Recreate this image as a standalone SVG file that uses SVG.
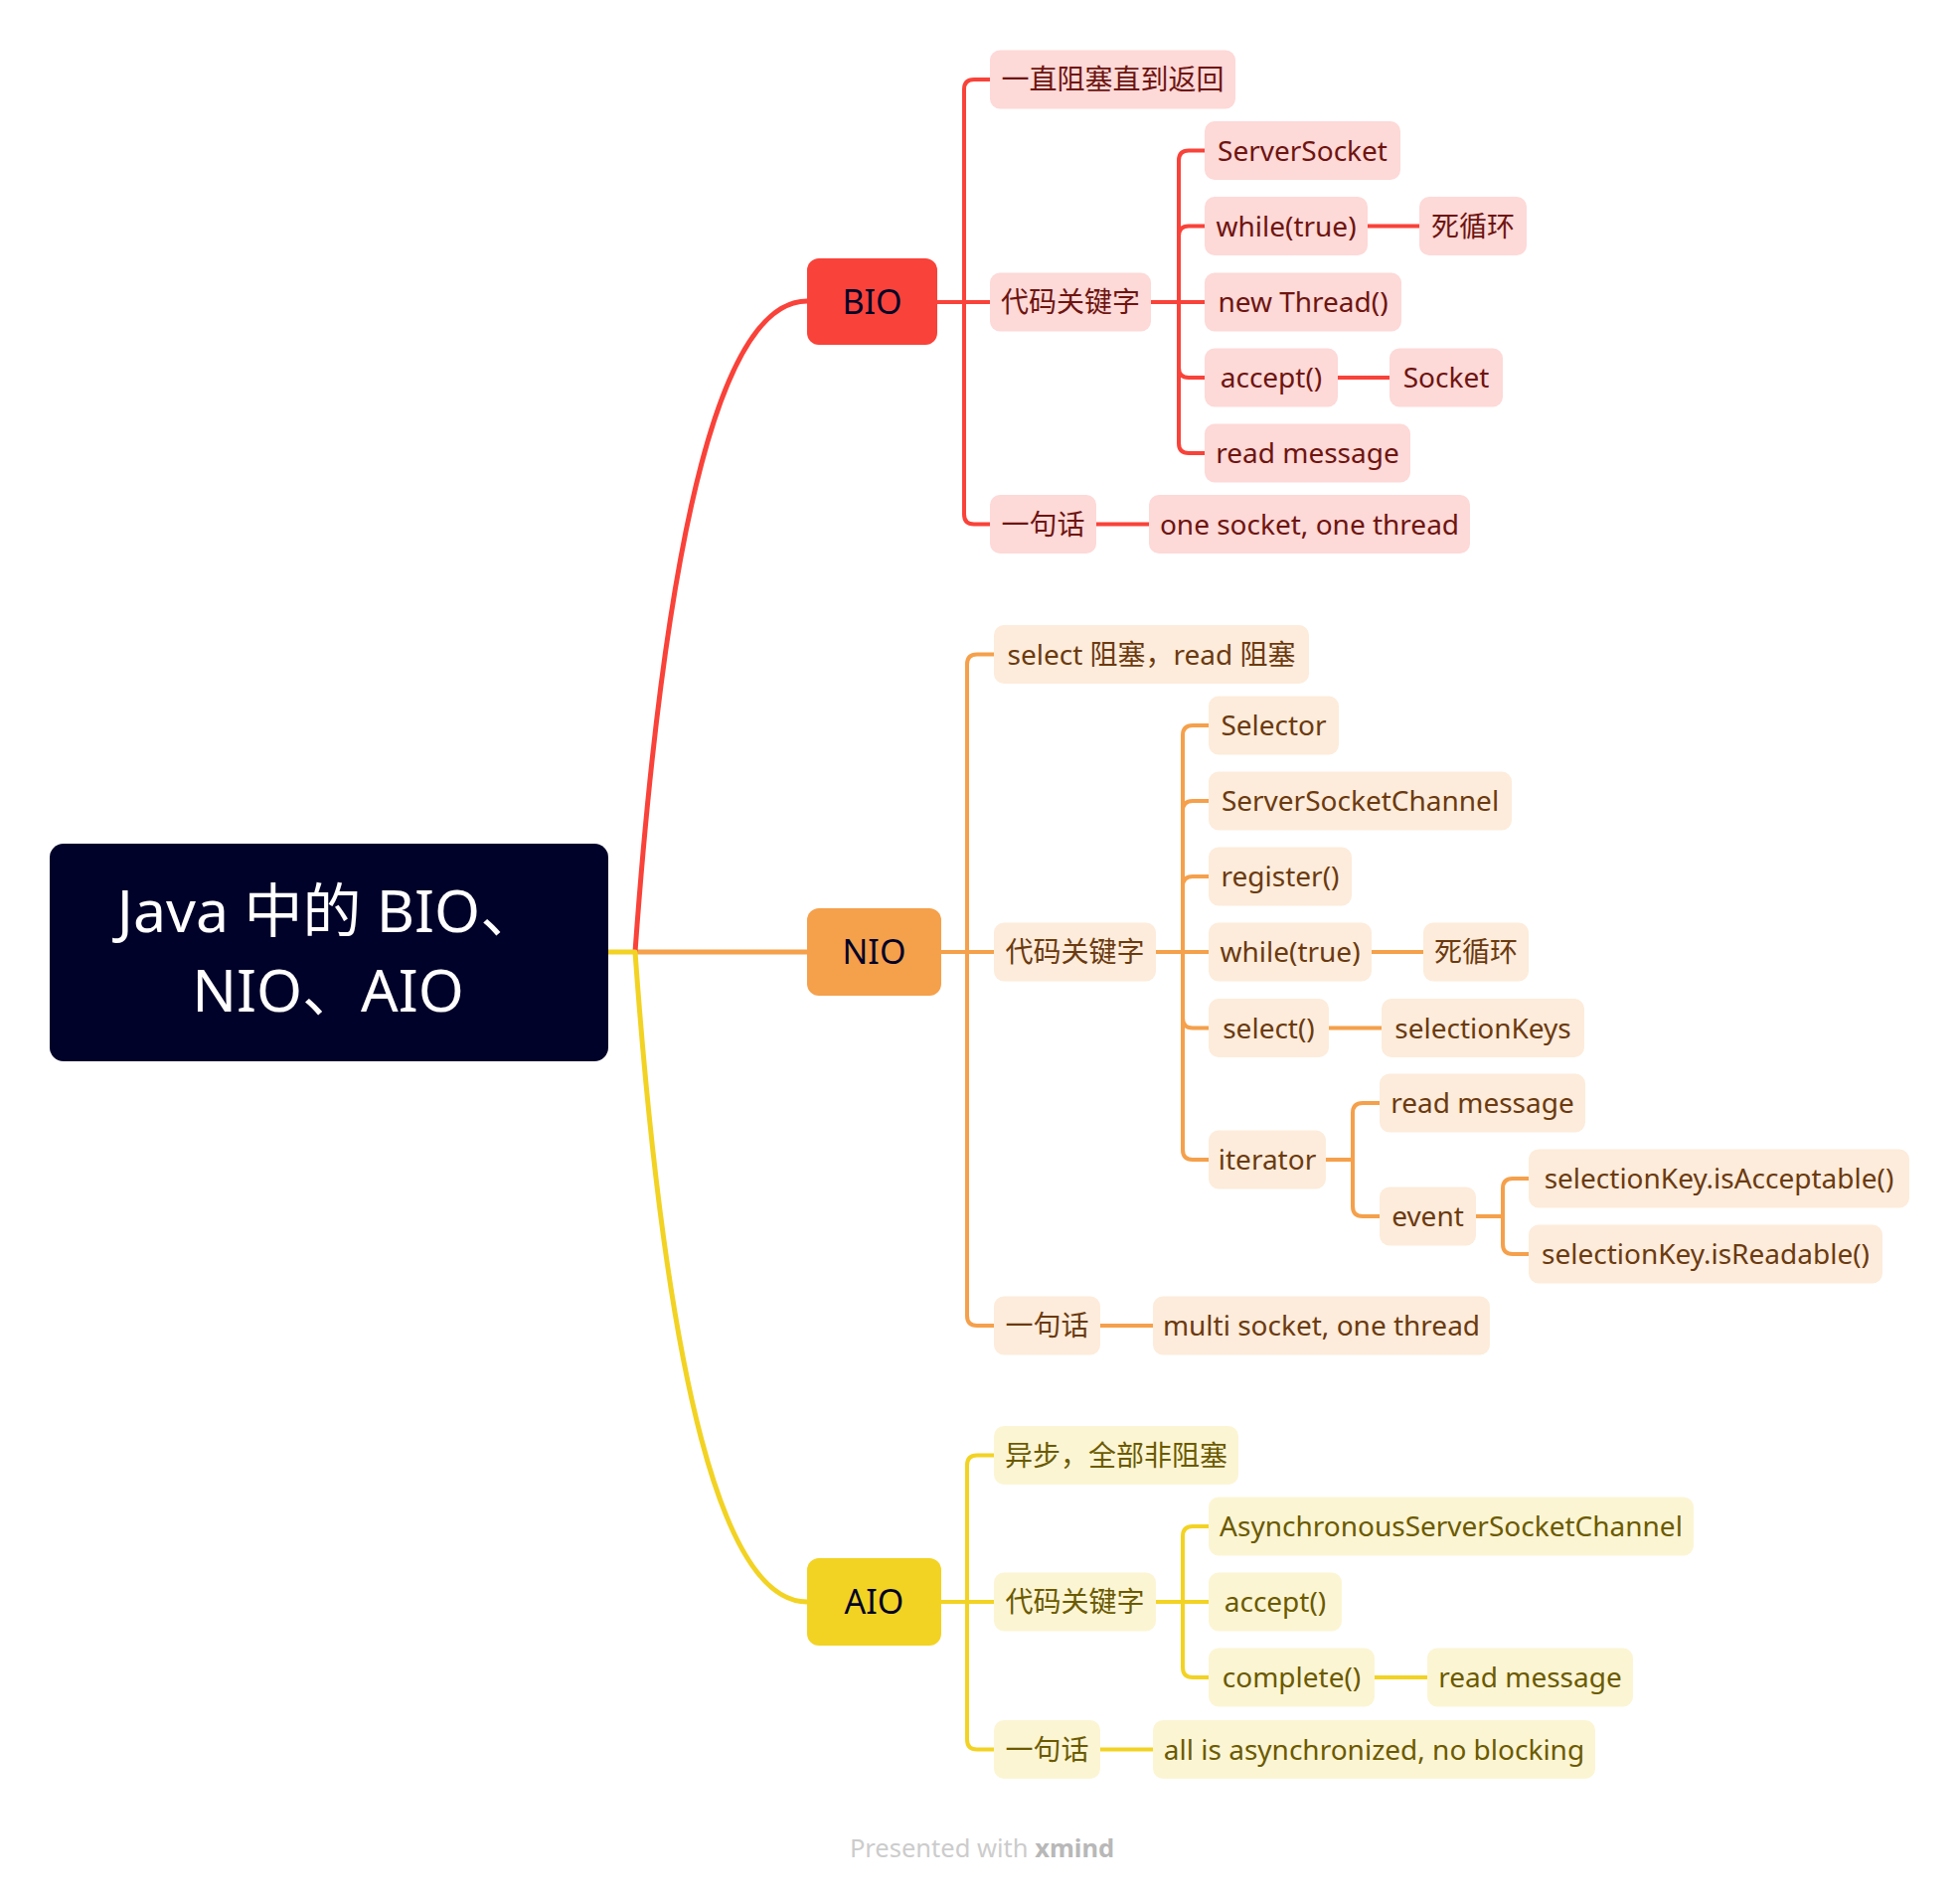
<svg xmlns="http://www.w3.org/2000/svg" width="1972" height="1910" viewBox="0 0 1972 1910">
<style>
text{font-family:"Noto Sans","Noto Sans CJK SC",sans-serif;text-anchor:middle}
.c{fill:none;stroke-linejoin:round}
.r{stroke:#F94239}.o{stroke:#F5A04B}.y{stroke:#F2D323}
.m{stroke-width:5}.s{stroke-width:4}
.t{font-size:28px}
.rb{fill:#FDD9D8}.rt{fill:#6E1410}
.ob{fill:#FDECDB}.ot{fill:#6B3A10}
.yb{fill:#FCF5D4}.yt{fill:#6B5A00}
.main{font-size:34px;fill:#000229}
</style>
<rect width="1972" height="1910" fill="#FFFFFF"/>
<g id="connectors">
<path class="c o m" d="M639 958H812"/>
<path class="c r m" d="M639 958Q686 303 812 303"/>
<path class="c y m" d="M612 958H639Q686 1612 812 1612"/>
<g class="c r s">
<path d="M943 304H996"/>
<path d="M970 304V90Q970 80 980 80H996"/>
<path d="M970 304V517.5Q970 527.5 980 527.5H996"/>
<path d="M1158 304H1212"/>
<path d="M1186 304V161.5Q1186 151.5 1196 151.5H1212"/>
<path d="M1186 304V237.5Q1186 227.5 1196 227.5H1212"/>
<path d="M1186 304V370Q1186 380 1196 380H1212"/>
<path d="M1186 304V446Q1186 456 1196 456H1212"/>
<path d="M1376 227.5H1428"/>
<path d="M1346 380H1398"/>
<path d="M1103 527.5H1156"/>
</g>
<g class="c o s">
<path d="M947 958H1000"/>
<path d="M973 958V668.5Q973 658.5 983 658.5H1000"/>
<path d="M973 958V1324Q973 1334 983 1334H1000"/>
<path d="M1163 958H1216"/>
<path d="M1190 958V740Q1190 730 1200 730H1216"/>
<path d="M1190 958V816Q1190 806 1200 806H1216"/>
<path d="M1190 958V892Q1190 882 1200 882H1216"/>
<path d="M1190 958V1024.5Q1190 1034.5 1200 1034.5H1216"/>
<path d="M1190 958V1157Q1190 1167 1200 1167H1216"/>
<path d="M1380 958H1432"/>
<path d="M1337 1034.5H1390"/>
<path d="M1334 1167H1361"/>
<path d="M1361 1167V1120Q1361 1110 1371 1110H1388"/>
<path d="M1361 1167V1214Q1361 1224 1371 1224H1388"/>
<path d="M1485 1224H1512"/>
<path d="M1512 1224V1196Q1512 1186 1522 1186H1538"/>
<path d="M1512 1224V1252Q1512 1262 1522 1262H1538"/>
<path d="M1107 1334H1160"/>
</g>
<g class="c y s">
<path d="M947 1612H1000"/>
<path d="M973 1612V1474.5Q973 1464.5 983 1464.5H1000"/>
<path d="M973 1612V1750.5Q973 1760.5 983 1760.5H1000"/>
<path d="M1163 1612H1216"/>
<path d="M1190 1612V1546Q1190 1536 1200 1536H1216"/>
<path d="M1190 1612V1678Q1190 1688 1200 1688H1216"/>
<path d="M1383 1688H1436"/>
<path d="M1107 1760.5H1160"/>
</g>
</g>
<g id="root">
<rect x="50" y="849" width="562" height="219" rx="14" fill="#000229"/>
<text x="330" y="938" font-size="59" fill="#FFFFFF">Java 中的 BIO、</text>
<text x="330" y="1018" font-size="59" fill="#FFFFFF">NIO、AIO</text>
</g>
<g id="bio"><rect x="812" y="260" width="131" height="87" rx="12" fill="#F94239"/><text class="main" x="877.5" y="316">BIO</text></g>
<g id="nio"><rect x="812" y="914" width="135" height="88" rx="12" fill="#F5A04B"/><text class="main" x="879.5" y="970">NIO</text></g>
<g id="aio"><rect x="812" y="1568" width="135" height="88" rx="12" fill="#F2D323"/><text class="main" x="879.5" y="1624">AIO</text></g>

<g id="b1"><rect class="rb" x="996" y="50.5" width="247" height="59" rx="10"/><text class="t rt" x="1119.5" y="90">一直阻塞直到返回</text></g>
<g id="b2"><rect class="rb" x="996" y="274.5" width="162" height="59" rx="10"/><text class="t rt" x="1077" y="314">代码关键字</text></g>
<g id="b2a"><rect class="rb" x="1212" y="122" width="197" height="59" rx="10"/><text class="t rt" x="1310.5" y="161.5">ServerSocket</text></g>
<g id="b2b"><rect class="rb" x="1212" y="198" width="164" height="59" rx="10"/><text class="t rt" x="1294" y="237.5">while(true)</text></g>
<g id="b2b1"><rect class="rb" x="1428" y="198" width="108" height="59" rx="10"/><text class="t rt" x="1482" y="237.5">死循环</text></g>
<g id="b2c"><rect class="rb" x="1212" y="274.5" width="198" height="59" rx="10"/><text class="t rt" x="1311" y="314">new Thread()</text></g>
<g id="b2d"><rect class="rb" x="1212" y="350.5" width="134" height="59" rx="10"/><text class="t rt" x="1279" y="390">accept()</text></g>
<g id="b2d1"><rect class="rb" x="1398" y="350.5" width="114" height="59" rx="10"/><text class="t rt" x="1455" y="390">Socket</text></g>
<g id="b2e"><rect class="rb" x="1212" y="426.5" width="207" height="59" rx="10"/><text class="t rt" x="1315.5" y="466">read message</text></g>
<g id="b3"><rect class="rb" x="996" y="498" width="107" height="59" rx="10"/><text class="t rt" x="1049.5" y="537.5">一句话</text></g>
<g id="b3a"><rect class="rb" x="1156" y="498" width="323" height="59" rx="10"/><text class="t rt" x="1317.5" y="537.5">one socket, one thread</text></g>

<g id="n1"><rect class="ob" x="1000" y="629" width="317" height="59" rx="10"/><text class="t ot" x="1158.5" y="668.5">select 阻塞，read 阻塞</text></g>
<g id="n2"><rect class="ob" x="1000" y="928.5" width="163" height="59" rx="10"/><text class="t ot" x="1081.5" y="968">代码关键字</text></g>
<g id="n2a"><rect class="ob" x="1216" y="700.5" width="131" height="59" rx="10"/><text class="t ot" x="1281.5" y="740">Selector</text></g>
<g id="n2b"><rect class="ob" x="1216" y="776.5" width="305" height="59" rx="10"/><text class="t ot" x="1368.5" y="816">ServerSocketChannel</text></g>
<g id="n2c"><rect class="ob" x="1216" y="852.5" width="144" height="59" rx="10"/><text class="t ot" x="1288" y="892">register()</text></g>
<g id="n2d"><rect class="ob" x="1216" y="928.5" width="164" height="59" rx="10"/><text class="t ot" x="1298" y="968">while(true)</text></g>
<g id="n2d1"><rect class="ob" x="1432" y="928.5" width="106" height="59" rx="10"/><text class="t ot" x="1485" y="968">死循环</text></g>
<g id="n2e"><rect class="ob" x="1216" y="1005" width="121" height="59" rx="10"/><text class="t ot" x="1276.5" y="1044.5">select()</text></g>
<g id="n2e1"><rect class="ob" x="1390" y="1005" width="204" height="59" rx="10"/><text class="t ot" x="1492" y="1044.5">selectionKeys</text></g>
<g id="n2f"><rect class="ob" x="1216" y="1137.5" width="118" height="59" rx="10"/><text class="t ot" x="1275" y="1177">iterator</text></g>
<g id="n2f1"><rect class="ob" x="1388" y="1080.5" width="207" height="59" rx="10"/><text class="t ot" x="1491.5" y="1120">read message</text></g>
<g id="n2f2"><rect class="ob" x="1388" y="1194.5" width="97" height="59" rx="10"/><text class="t ot" x="1436.5" y="1234">event</text></g>
<g id="n2f2a"><rect class="ob" x="1538" y="1156.5" width="383" height="59" rx="10"/><text class="t ot" x="1729.5" y="1196">selectionKey.isAcceptable()</text></g>
<g id="n2f2b"><rect class="ob" x="1538" y="1232.5" width="356" height="59" rx="10"/><text class="t ot" x="1716" y="1272">selectionKey.isReadable()</text></g>
<g id="n3"><rect class="ob" x="1000" y="1304.5" width="107" height="59" rx="10"/><text class="t ot" x="1053.5" y="1344">一句话</text></g>
<g id="n3a"><rect class="ob" x="1160" y="1304.5" width="339" height="59" rx="10"/><text class="t ot" x="1329.5" y="1344">multi socket, one thread</text></g>

<g id="a1"><rect class="yb" x="1000" y="1435" width="246" height="59" rx="10"/><text class="t yt" x="1123" y="1474.5">异步，全部非阻塞</text></g>
<g id="a2"><rect class="yb" x="1000" y="1582.5" width="163" height="59" rx="10"/><text class="t yt" x="1081.5" y="1622">代码关键字</text></g>
<g id="a2a"><rect class="yb" x="1216" y="1506.5" width="488" height="59" rx="10"/><text class="t yt" x="1460" y="1546">AsynchronousServerSocketChannel</text></g>
<g id="a2b"><rect class="yb" x="1216" y="1582.5" width="134" height="59" rx="10"/><text class="t yt" x="1283" y="1622">accept()</text></g>
<g id="a2c"><rect class="yb" x="1216" y="1658.5" width="167" height="59" rx="10"/><text class="t yt" x="1299.5" y="1698">complete()</text></g>
<g id="a2c1"><rect class="yb" x="1436" y="1658.5" width="207" height="59" rx="10"/><text class="t yt" x="1539.5" y="1698">read message</text></g>
<g id="a3"><rect class="yb" x="1000" y="1731" width="107" height="59" rx="10"/><text class="t yt" x="1053.5" y="1770.5">一句话</text></g>
<g id="a3a"><rect class="yb" x="1160" y="1731" width="445" height="59" rx="10"/><text class="t yt" x="1382.5" y="1770.5">all is asynchronized, no blocking</text></g>

<text x="988" y="1869" font-size="25.5" fill="#CCCCCC">Presented with <tspan font-weight="bold" fill="#B8B8B8">xmind</tspan></text>
</svg>
